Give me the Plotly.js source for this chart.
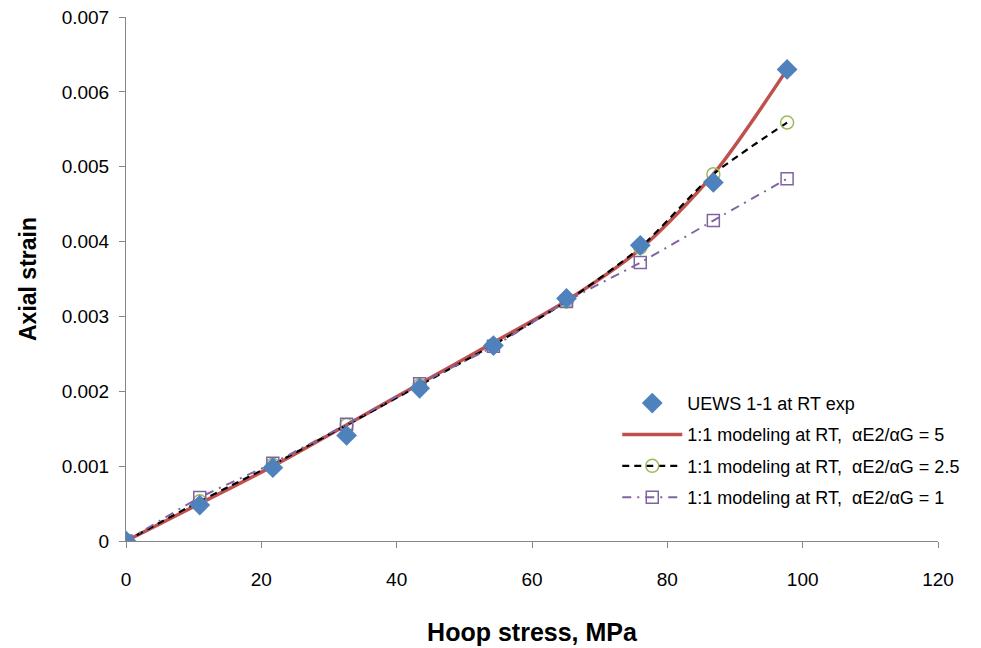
<!DOCTYPE html>
<html>
<head>
<meta charset="utf-8">
<script src="https://cdn.plot.ly/plotly-3.0.1.min.js"></script>
<style>html,body{margin:0;padding:0;background:#fff;}#chart{width:981px;height:648px;}</style>
</head>
<body>
<div id="chart"></div>
<script>
const hoopStress = [0, 10.9, 21.7, 32.6, 43.4, 54.3, 65.1, 76.0, 86.8, 97.7];
const expStrain   = [0, 0.00048, 0.00098, 0.00141, 0.00204, 0.00261, 0.00324, 0.00395, 0.00479, 0.0063];
const model5      = [0, 0.00050, 0.00100, 0.00155, 0.00210, 0.00265, 0.00321, 0.00390, 0.00490, 0.0063];
const model25     = [0, 0.00053, 0.00102, 0.00155, 0.00208, 0.00262, 0.00320, 0.00392, 0.00490, 0.00559];
const model1      = [0, 0.00058, 0.00104, 0.00156, 0.00210, 0.00260, 0.00320, 0.00372, 0.00428, 0.00484];
const yTicks = [0, 0.001, 0.002, 0.003, 0.004, 0.005, 0.006, 0.007];
const yTickText = ["0", "0.001", "0.002", "0.003", "0.004", "0.005", "0.006", "0.007"];
const xTicks = [0, 20, 40, 60, 80, 100, 120];

const FONT = "Liberation Sans, Arial, sans-serif";

const traces = [
  {x: hoopStress, y: model5, mode: "lines", name: "1:1 modeling at RT,  αE2/αG = 5",
   line: {color: "#C0504D", width: 3.5, shape: "spline", smoothing: 0.8}, legendrank: 2, legendgroup: "b"},
  {x: hoopStress, y: model25, mode: "lines+markers", name: "1:1 modeling at RT,  αE2/αG = 2.5",
   line: {color: "#000000", width: 2.2, dash: "7px,5px", shape: "spline", smoothing: 0.6},
   marker: {symbol: "circle-open", size: 13, color: "#9BBB59", line: {width: 1.5}}, legendrank: 3, legendgroup: "c"},
  {x: hoopStress, y: model1, mode: "lines+markers", name: "1:1 modeling at RT,  αE2/αG = 1",
   line: {color: "#8064A2", width: 2, dash: "9px,6px,2px,6px", shape: "spline", smoothing: 0.6},
   marker: {symbol: "square-open", size: 12, color: "#8064A2", line: {width: 1.5}}, legendrank: 4, legendgroup: "d"},
  {x: hoopStress, y: expStrain, mode: "markers", name: "UEWS 1-1 at RT exp",
   marker: {symbol: "diamond", size: 16, color: "#4F81BD"}, legendrank: 1, legendgroup: "a"}
];

const layout = {
  width: 981, height: 648,
  margin: {l: 126, r: 43, t: 17, b: 107},
  paper_bgcolor: "#ffffff", plot_bgcolor: "#ffffff",
  font: {family: FONT, size: 18, color: "#000"},
  showlegend: true,
  legend: {x: 0.605, y: 0.298, xanchor: "left", yanchor: "top",
           font: {family: FONT, size: 18, color: "#000"}, bgcolor: "rgba(0,0,0,0)",
           traceorder: "grouped", tracegroupgap: 5, itemwidth: 60},
  xaxis: {range: [0, 120], tickvals: xTicks, showgrid: false, zeroline: false,
          showline: true, linecolor: "#868686", linewidth: 1, ticks: "outside", ticklen: 6, tickcolor: "#868686",
          tickfont: {family: FONT, size: 19}, ticklabelstandoff: 15,
          title: {text: "<b>Hoop stress, MPa</b>", font: {family: FONT, size: 25}, standoff: 34}},
  yaxis: {range: [0, 0.007], tickvals: yTicks, ticktext: yTickText, showgrid: false, zeroline: false,
          showline: true, linecolor: "#868686", linewidth: 1, ticks: "outside", ticklen: 6, tickcolor: "#868686",
          tickfont: {family: FONT, size: 19}, ticklabelstandoff: 6,
          title: {text: "<b>Axial strain</b>", font: {family: FONT, size: 23}, standoff: 18}}
};

Plotly.newPlot("chart", traces, layout, {displayModeBar: false, staticPlot: true});
</script>
</body>
</html>
